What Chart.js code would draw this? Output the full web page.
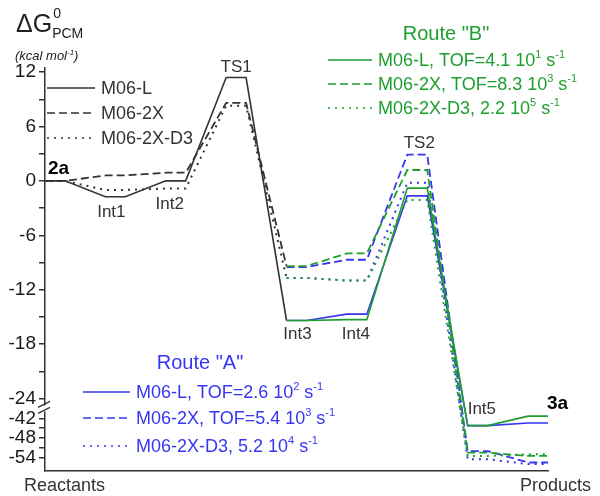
<!DOCTYPE html>
<html>
<head>
<meta charset="utf-8">
<script src="https://cdn.jsdelivr.net/npm/chart.js@4.4.1/dist/chart.umd.min.js"></script>
<style>
  body { margin: 0; background: #fff; }
  #wrap { width: 600px; height: 496px; }
</style>
</head>
<body>
<div id="wrap"><canvas id="chart" width="600" height="496"></canvas></div>
<script>
// reaction coordinate states
const states = ['2a', 'Int1', 'Int2', 'TS1', 'Int3', 'Int4', 'TS2', 'Int5', '3a'];

// common part 2a -> Int3 (kcal/mol), black curves
const commonL  = [0, -1.75, 0, 11.4, -15.4];
const common2X = [0, 0.6, 0.9, 8.6, -9.4];
const commonD3 = [0, -1.0, -0.85, 8.3, -10.7];

// Route "B" (green), Int3 -> 3a
const routeB_L  = [-15.4, -15.3, -0.8, -44.2, -41.3];
const routeB_2X = [-9.4, -8.0, 1.2, -52.5, -53.5];
const routeB_D3 = [-10.7, -11.0, -2.1, -53.5, -53.0];

// Route "A" (blue), Int3 -> 3a
const routeA_L  = [-15.4, -14.7, -1.65, -44.2, -43.4];
const routeA_2X = [-9.5, -8.7, 2.9, -52.0, -55.5];
const routeA_D3 = [-10.7, -11.0, -0.2, -54.5, -56.0];

// y axis ticks, the axis is broken between -24 and -42
const majorTicks = [12, 6, 0, -6, -12, -18, -24, -42, -48, -54];
const minorTicks = [9, 3, -3, -9, -15, -21, -45, -51];

const FONT = "'Liberation Sans', Arial, sans-serif";
const BLACK = '#333333';
const GREEN = '#1f9e30';
const BLUE = '#3636f2';
const HW = 0.165;   // half width of a level plateau
const DASH = [8, 4];
const DOT = [2, 5];

// broken axis: values below -24 are compressed
function tr(v) {
  if (v >= -24) return v;
  return -26.2 + (v + 42) * 0.36;
}

function levels(values, firstIdx, lastOnlyStart) {
  const pts = [];
  values.forEach((v, i) => {
    const x = firstIdx + i;
    pts.push({x: x - HW, y: tr(v)});
    if (!(lastOnlyStart && i === values.length - 1)) pts.push({x: x + HW, y: tr(v)});
  });
  return pts;
}

function line(data, color, dash, width) {
  return {
    data: data,
    borderColor: color,
    borderWidth: width || 1.6,
    borderDash: dash || [],
    pointRadius: 0,
    fill: false,
    tension: 0
  };
}

const allTicks = majorTicks.concat(minorTicks);
const tickLabels = allTicks.map(v => majorTicks.includes(v) ? String(v) : '');

function richText(ctx, x, y, parts, size, color, align, style) {
  const small = Math.round(size * 0.62);
  const f = (s) => (style ? style + ' ' : '') + s + 'px ' + FONT;
  let w = 0;
  parts.forEach(p => { ctx.font = f(p[1] ? small : size); w += ctx.measureText(p[0]).width; });
  let cx = align === 'center' ? x - w / 2 : x;
  ctx.fillStyle = color;
  ctx.textAlign = 'left';
  ctx.textBaseline = 'alphabetic';
  parts.forEach(p => {
    ctx.font = f(p[1] ? small : size);
    let dy = 0;
    if (p[1] === 'sup') dy = -size * 0.42;
    if (p[1] === 'sub') dy = size * 0.25;
    ctx.fillText(p[0], cx, y + dy);
    cx += ctx.measureText(p[0]).width;
  });
}

// state label: [index, align, dx, anchor value, dy, bold]
const stateLabelPos = [
  [0, 'left', -7, 0, -7, true],
  [1, 'center', -4, -1.75, 20, false],
  [2, 'center', -6, 0, 28, false],
  [3, 'center', 0, 11.4, -6, false],
  [4, 'center', 1, -15.4, 19, false],
  [5, 'center', -1, -15.4, 19, false],
  [6, 'center', 2, 2.9, -7, false],
  [7, 'left', -10, -44.2, -12, false],
  [8, 'left', 9, -41.3, -7, true]
];

const annotations = {
  id: 'annotations',
  afterDraw(chart) {
    const ctx = chart.ctx;
    const xs = chart.scales.x, ys = chart.scales.y;
    const ds = chart.data.datasets;
    ctx.save();

    // axis break marks
    const ax = chart.chartArea.left;
    const yb = (ys.getPixelForValue(-24) + ys.getPixelForValue(tr(-42))) / 2;
    ctx.fillStyle = '#fff';
    ctx.fillRect(ax - 3, yb - 3, 6, 6);
    ctx.strokeStyle = BLACK;
    ctx.lineWidth = 1.3;
    ctx.beginPath();
    ctx.moveTo(ax - 7, yb - 1); ctx.lineTo(ax + 5, yb - 7);
    ctx.moveTo(ax - 7, yb + 5); ctx.lineTo(ax + 5, yb - 1);
    ctx.stroke();

    // y title
    ctx.fillStyle = '#222';
    ctx.font = '25px ' + FONT;
    ctx.textAlign = 'left';
    ctx.textBaseline = 'alphabetic';
    ctx.fillText('\u0394G', 16, 32);
    const gw = ctx.measureText('\u0394G').width;
    ctx.font = '14px ' + FONT;
    ctx.fillText('0', 16 + gw + 1, 18);
    ctx.fillText('PCM', 16 + gw, 38);
    richText(ctx, 15, 60, [['(kcal mol', ''], ['-1', 'sup'], [')', '']], 13, '#222', 'left', 'italic');

    // state labels
    stateLabelPos.forEach(s => {
      const px = xs.getPixelForValue(s[0]) + s[2];
      const py = ys.getPixelForValue(tr(s[3])) + s[4];
      ctx.font = (s[5] ? 'bold 19px ' : '17px ') + FONT;
      ctx.fillStyle = s[5] ? '#000' : '#333';
      ctx.textAlign = s[1];
      let x = px;
      if (s[0] === 0) x = chart.chartArea.left + 3;
      if (s[0] === 8) x = xs.getPixelForValue(8 + HW) - 1;
      ctx.fillText(states[s[0]], x, py);
    });

    // x axis end labels
    ctx.font = '18px ' + FONT;
    ctx.fillStyle = '#333';
    ctx.textAlign = 'left';
    ctx.fillText('Reactants', 24, 491);
    ctx.fillText('Products', 520, 491);

    // legends
    function row(x1, x2, y, d, parts, color) {
      ctx.save();
      ctx.strokeStyle = d.borderColor;
      ctx.lineWidth = 1.5;
      ctx.setLineDash(d.borderDash);
      ctx.beginPath();
      ctx.moveTo(x1, y); ctx.lineTo(x2, y);
      ctx.stroke();
      ctx.restore();
      richText(ctx, x2 + 6, y + 6, parts, 18, color, 'left');
    }
    // black
    row(47, 95, 88, ds[6], [['M06-L', '']], BLACK);
    row(47, 95, 113, ds[7], [['M06-2X', '']], BLACK);
    row(47, 95, 138, ds[8], [['M06-2X-D3', '']], BLACK);
    // route B
    richText(ctx, 446, 40, [['Route "B"', '']], 20, GREEN, 'center');
    row(328, 372, 60, ds[0], [['M06-L, TOF=4.1 10', ''], ['1', 'sup'], [' s', ''], ['-1', 'sup']], GREEN);
    row(328, 372, 84, ds[1], [['M06-2X, TOF=8.3 10', ''], ['3', 'sup'], [' s', ''], ['-1', 'sup']], GREEN);
    row(328, 372, 108, ds[2], [['M06-2X-D3, 2.2 10', ''], ['5', 'sup'], [' s', ''], ['-1', 'sup']], GREEN);
    // route A
    richText(ctx, 200, 369, [['Route "A"', '']], 20, BLUE, 'center');
    row(83, 130, 392, ds[3], [['M06-L, TOF=2.6 10', ''], ['2', 'sup'], [' s', ''], ['-1', 'sup']], BLUE);
    row(83, 130, 418, ds[4], [['M06-2X, TOF=5.4 10', ''], ['3', 'sup'], [' s', ''], ['-1', 'sup']], BLUE);
    row(83, 130, 446, ds[5], [['M06-2X-D3, 5.2 10', ''], ['4', 'sup'], [' s', ''], ['-1', 'sup']], BLUE);

    ctx.restore();
  }
};

Chart.defaults.font.family = FONT;

new Chart(document.getElementById('chart'), {
  type: 'line',
  data: {
    datasets: [
      line(levels(routeB_L, 4), GREEN),
      line(levels(routeB_2X, 4), GREEN, DASH, 1.8),
      line(levels(routeB_D3, 4), GREEN, DOT, 2),
      line(levels(routeA_L, 4), BLUE),
      line(levels(routeA_2X, 4), BLUE, DASH, 1.8),
      line(levels(routeA_D3, 4), BLUE, DOT, 2),
      line(levels(commonL, 0, true), BLACK),
      line(levels(common2X, 0, true), BLACK, DASH, 1.8),
      line(levels(commonD3, 0, true), BLACK, DOT, 2)
    ]
  },
  options: {
    responsive: false,
    animation: false,
    layout: { padding: { top: 68, left: 0, right: 52, bottom: 25 } },
    plugins: { legend: { display: false }, tooltip: { enabled: false } },
    scales: {
      x: {
        type: 'linear',
        min: -HW,
        max: 8 + HW,
        ticks: { display: false },
        grid: { display: false },
        border: { display: true, color: BLACK, width: 1.5 },
        afterFit: s => { s.height = 0; }
      },
      y: {
        type: 'linear',
        min: -32.0,
        max: 12.45,
        afterBuildTicks: s => { s.ticks = allTicks.map(v => ({value: tr(v)})); },
        afterFit: s => { s.width = 45; },
        ticks: {
          autoSkip: false,
          padding: 3,
          color: '#1a1a1a',
          font: { size: 19 },
          callback: (v, i) => tickLabels[i]
        },
        grid: { drawOnChartArea: false, drawTicks: true, tickLength: 6, color: BLACK, lineWidth: 1.5 },
        border: { display: true, color: BLACK, width: 1.5 }
      }
    }
  },
  plugins: [annotations]
});
</script>
</body>
</html>
